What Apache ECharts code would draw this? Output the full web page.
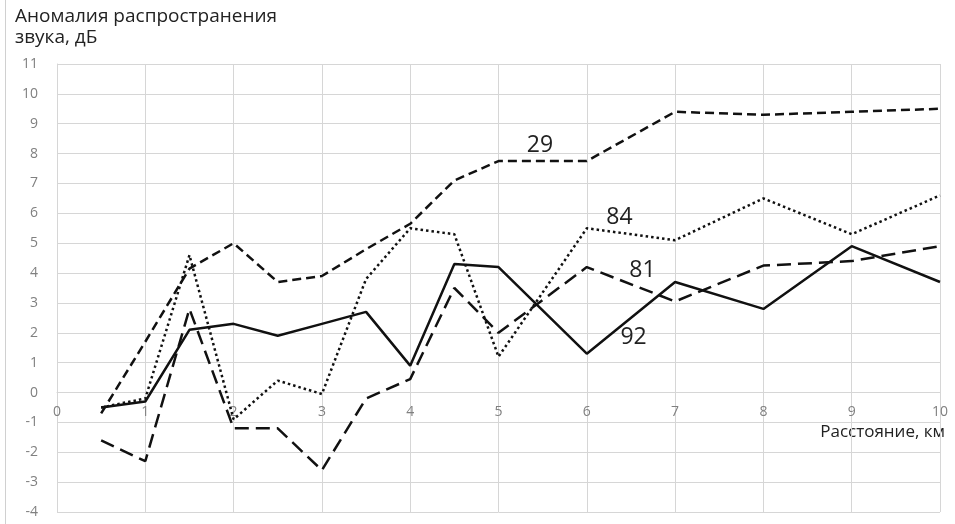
<!DOCTYPE html>
<html>
<head>
<meta charset="utf-8">
<script src="https://cdn.jsdelivr.net/npm/echarts@6/dist/echarts.min.js"></script>
<style>
  html, body { margin: 0; padding: 0; background: #fff; }
  #char { width: 955px; height: 524px; }
</style>
</head>
<body>
<div id="char"></div>
<script>
// расстояние, км
const distance = [0.5, 1, 1.5, 2, 2.5, 3, 3.5, 4, 4.5, 5, 6, 7, 8, 9, 10]
// аномалия, дБ
const s29 = [-0.7, 1.7, 4.15, 5.0, 3.7, 3.9, 4.8, 5.65, 7.1, 7.75, 7.75, 9.4, 9.3, 9.4, 9.5]
const s84 = [-0.5, -0.2, 4.6, -0.9, 0.4, -0.05, 3.8, 5.5, 5.3, 1.2, 5.5, 5.1, 6.5, 5.3, 6.6]
const s81 = [-1.6, -2.3, 2.8, -1.2, -1.2, -2.6, -0.2, 0.45, 3.5, 2.0, 4.2, 3.05, 4.25, 4.4, 4.9]
const s92 = [-0.5, -0.3, 2.1, 2.3, 1.9, 2.3, 2.7, 0.9, 4.3, 4.2, 1.3, 3.7, 2.8, 4.9, 3.7]
const seriesNames = ['29', '84', '81', '92']
const yTicks = { min: -4, max: 11, step: 1 }
const xTicks = { min: 0, max: 10, step: 1 }

const font = '"Open Sans", "Noto Sans", sans-serif'

function pairs(vals) {
  return distance.map((d, i) => [d, vals[i]])
}

function lineSeries(name, vals, dash, width, lbl) {
  return {
    name: name,
    type: 'line',
    data: pairs(vals),
    symbol: 'none',
    lineStyle: { color: '#111', width: width, type: dash, cap: 'butt' },
    z: 5,
    markPoint: {
      symbol: 'circle',
      symbolSize: 0,
      silent: true,
      label: { show: true, formatter: name, color: '#222', fontSize: 23, fontFamily: font, position: 'inside' },
      data: [{ coord: lbl }]
    }
  }
}

let myChart = echarts.init(document.getElementById('char'))
let option = {
  animation: false,
  grid: { left: 57, right: 15, top: 64, bottom: 12 },
  xAxis: {
    type: 'value',
    min: xTicks.min,
    max: xTicks.max,
    interval: xTicks.step,
    // ось X лежит на нуле (сдвиг от нижнего края: 4 деления)
    offset: -119.5,
    axisLine: { show: true, onZero: false, lineStyle: { color: '#d6d6d6' } },
    axisTick: { show: false },
    axisLabel: { color: '#808080', fontSize: 14, fontFamily: font, margin: 13 },
    splitLine: { show: true, lineStyle: { color: '#d6d6d6', width: 1 } }
  },
  yAxis: {
    type: 'value',
    min: yTicks.min,
    max: yTicks.max,
    interval: yTicks.step,
    axisLine: { show: true, onZero: false, lineStyle: { color: '#d6d6d6' } },
    axisTick: { show: false },
    axisLabel: { color: '#808080', fontSize: 14, fontFamily: font, margin: 19 },
    splitLine: { show: true, lineStyle: { color: '#d6d6d6', width: 1 } }
  },
  series: [
    lineSeries(seriesNames[0], s29, [9, 5], 2.5, [5.47, 8.27]),
    lineSeries(seriesNames[1], s84, [2.5, 3], 2.5, [6.37, 5.87]),
    lineSeries(seriesNames[2], s81, [14, 7], 2.5, [6.63, 4.09]),
    lineSeries(seriesNames[3], s92, 'solid', 2.5, [6.53, 1.84])
  ],
  graphic: [
    { type: 'line', shape: { x1: 5.5, y1: 0, x2: 5.5, y2: 524 }, style: { stroke: '#d0d0d0', lineWidth: 1 } },
    { type: 'text', left: 15, top: 7, style: { text: 'Аномалия распространения', fontSize: 19, fontFamily: font, fill: '#222' } },
    { type: 'text', left: 15, top: 28, style: { text: 'звука, дБ', fontSize: 19, fontFamily: font, fill: '#222' } },
    { type: 'text', right: 10, top: 424, style: { text: 'Расстояние, км', fontSize: 17, fontFamily: font, fill: '#222' } }
  ]
}
myChart.setOption(option)
window.addEventListener('resize', () => myChart.resize())
</script>
</body>
</html>
